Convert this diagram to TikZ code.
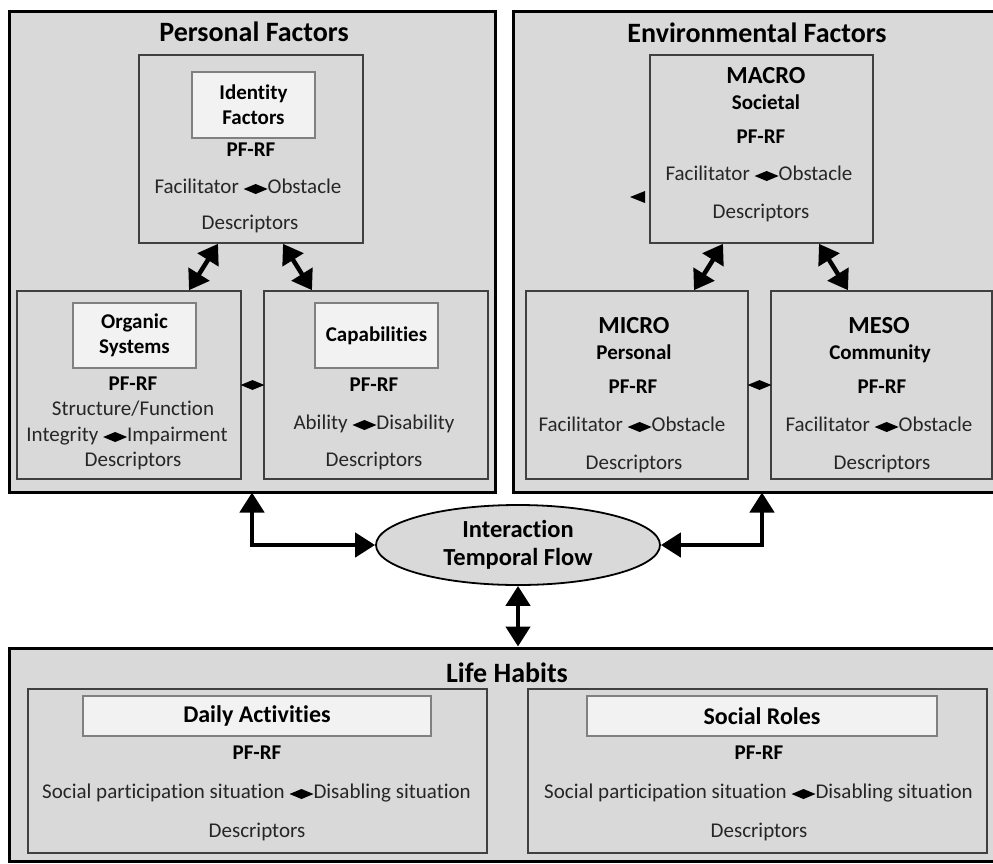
\documentclass[tikz,border=0pt]{standalone}
\usepackage{fontspec}
\setmainfont{Carlito}[Ligatures=NoCommon]
\usepackage{xcolor}
\usetikzlibrary{arrows.meta,shapes.geometric}

\definecolor{boxgray}{HTML}{D9D9D9}
\definecolor{labelwhite}{HTML}{F2F2F2}
\definecolor{textgray}{HTML}{262626}

\newcommand{\twoway}{\tikz[baseline={(0pt,-4pt)}]\fill[black] (0pt,0pt) -- (12pt,5pt) -- (24pt,0pt) -- (12pt,-5pt) -- cycle;}

\begin{document}
\begin{tikzpicture}[x=1pt, y=-1pt,
  Outer/.style={draw=black, line width=3pt, fill=boxgray, inner sep=0pt},
  Panel/.style={draw=black!75, line width=1.6pt, fill=boxgray, inner sep=0pt},
  Label/.style={draw=black!50, line width=1.4pt, fill=labelwhite, inner sep=0pt, align=center, font=\fontsize{21}{25}\selectfont\bfseries},
  Title/.style={font=\fontsize{28}{32}\selectfont\bfseries, inner sep=0pt, anchor=base},
  Head/.style={font=\fontsize{24.5}{28}\selectfont\bfseries, inner sep=0pt, anchor=base},
  Strong/.style={font=\fontsize{21}{25}\selectfont\bfseries, inner sep=0pt, anchor=base},
  Plain/.style={font=\fontsize{21}{25}\selectfont, text=textgray, inner sep=0pt, anchor=base},
  Link/.style={diamond, fill=black, inner sep=0pt, minimum width=24pt, minimum height=10pt, aspect=2.4},
  Connection/.style={line width=4.5pt, {Triangle[length=20pt,width=24pt]}-{Triangle[length=20pt,width=24pt]}},
  Tilted/.style={line width=4.5pt, {Triangle[length=19pt,width=24pt]}-{Triangle[length=19pt,width=24pt]}}]

\clip (0,0) rectangle (993,863);
\fill[white] (0,0) rectangle (993,863);

% the three big groups
\node [Outer, minimum width=486pt, minimum height=481pt] (personal) at (252,251.5) {};
\node [Outer, minimum width=498pt, minimum height=481pt] (environ) at (762,251.5) {};
\node [Outer, minimum width=1001pt, minimum height=213pt] (habits) at (509.5,754.5) {};

\node [Title] (personaltitle) at (254,41) {Personal Factors};
\node [Title] (environtitle) at (757,42) {Environmental Factors};
\node [Title] (habitstitle) at (507,682) {Life Habits};

% personal factors
\node [Panel, minimum width=224pt, minimum height=188pt] (identity) at (251,149) {};
\node [Panel, minimum width=224pt, minimum height=188pt] (organic) at (129,385) {};
\node [Panel, minimum width=224pt, minimum height=188pt] (capab) at (376,385) {};
\node [Label, minimum width=123pt, minimum height=66pt] (idlabel) at (253.5,105) {Identity\\Factors};
\node [Label, minimum width=123pt, minimum height=65pt] (orglabel) at (134.5,335.5) {Organic\\Systems};
\node [Label, minimum width=123pt, minimum height=65pt] (caplabel) at (376.5,335.5) {Capabilities};

% environmental factors
\node [Panel, minimum width=223pt, minimum height=188pt] (macro) at (761.5,149) {};
\node [Panel, minimum width=222pt, minimum height=188pt] (micro) at (637,385) {};
\node [Panel, minimum width=221pt, minimum height=188pt] (meso) at (881.5,385) {};

\node [Head] (macrohead) at (766,83) {MACRO};
\node [Strong] (macrosub) at (766,109) {Societal};
\node [Head] (microhead) at (634,333) {MICRO};
\node [Strong] (microsub) at (634,359) {Personal};
\node [Head] (mesohead) at (879,333) {MESO};
\node [Strong] (mesosub) at (880,359) {Community};

\fill [black] (645,191) -- (645,203) -- (630,197) -- cycle;

% life habits
\node [Panel, minimum width=459pt, minimum height=164pt] (daily) at (257.5,771) {};
\node [Panel, minimum width=459pt, minimum height=164pt] (roles) at (757.5,771) {};
\node [Label, minimum width=348pt, minimum height=40pt, font=\fontsize{24}{28}\selectfont\bfseries] (dailylabel) at (257,716) {Daily Activities};
\node [Label, minimum width=350pt, minimum height=40pt, font=\fontsize{24}{28}\selectfont\bfseries] (roleslabel) at (762,716) {Social Roles};

\foreach \name/\x/\y in {id/251/156, org/133/390, cap/374/391, mac/761/143, mic/633/393, mes/882/393, day/257/759, rol/759/759} {
  \node [Strong] (\name-pfrf) at (\x,\y) {PF-RF};
}
\foreach \name/\x/\y in {id/250/229, org/133/466, cap/374/466, mac/761/218, mic/634/469, mes/882/469, day/257/837, rol/759/837} {
  \node [Plain] (\name-desc) at (\x,\y) {Descriptors};
}

\foreach \name/\x/\y in {id/248/193, mac/759/180, mic/632/431, mes/879/431} {
  \node [Plain] (\name-pair) at (\x,\y) {Facilitator \twoway Obstacle};
}
\node [Plain] (org-struct) at (133,415) {Structure/Function};
\node [Plain] (org-pair) at (127,441) {Integrity \twoway Impairment};
\node [Plain] (cap-pair) at (374,429) {Ability \twoway Disability};
\node [Plain] (day-pair) at (256.5,798) {Social participation situation \twoway Disabling situation};
\node [Plain] (rol-pair) at (758.5,798) {Social participation situation \twoway Disabling situation};

% interaction
\node [ellipse, draw=black, line width=1.8pt, fill=boxgray, minimum width=284pt, minimum height=80pt, inner sep=0pt, align=center, font=\fontsize{24.5}{28}\selectfont\bfseries] (flow) at (518,545) {Interaction\\Temporal Flow};

% links
\path (organic.east) -- (capab.west) node [Link, midway] (pfjoin) {};
\path (micro.east) -- (meso.west) node [Link, midway] (efjoin) {};

\draw [Tilted] ([xshift=-33pt]identity.south) -- ([xshift=60pt]organic.north);
\draw [Tilted] ([xshift=32pt]identity.south) -- ([xshift=-64pt]capab.north);
\draw [Tilted] ([xshift=-38.5pt]macro.south) -- ([xshift=57pt]micro.north);
\draw [Tilted] ([xshift=57.5pt]macro.south) -- ([xshift=-33.5pt]meso.north);

\draw [Connection, shorten >=-1pt] (flow.west) -| (personal.south);
\draw [Connection, shorten >=-1pt] (flow.east) -| (environ.south);
\draw [Connection] (flow.south) -- (flow.south |- habits.north);
\end{tikzpicture}
\end{document}
